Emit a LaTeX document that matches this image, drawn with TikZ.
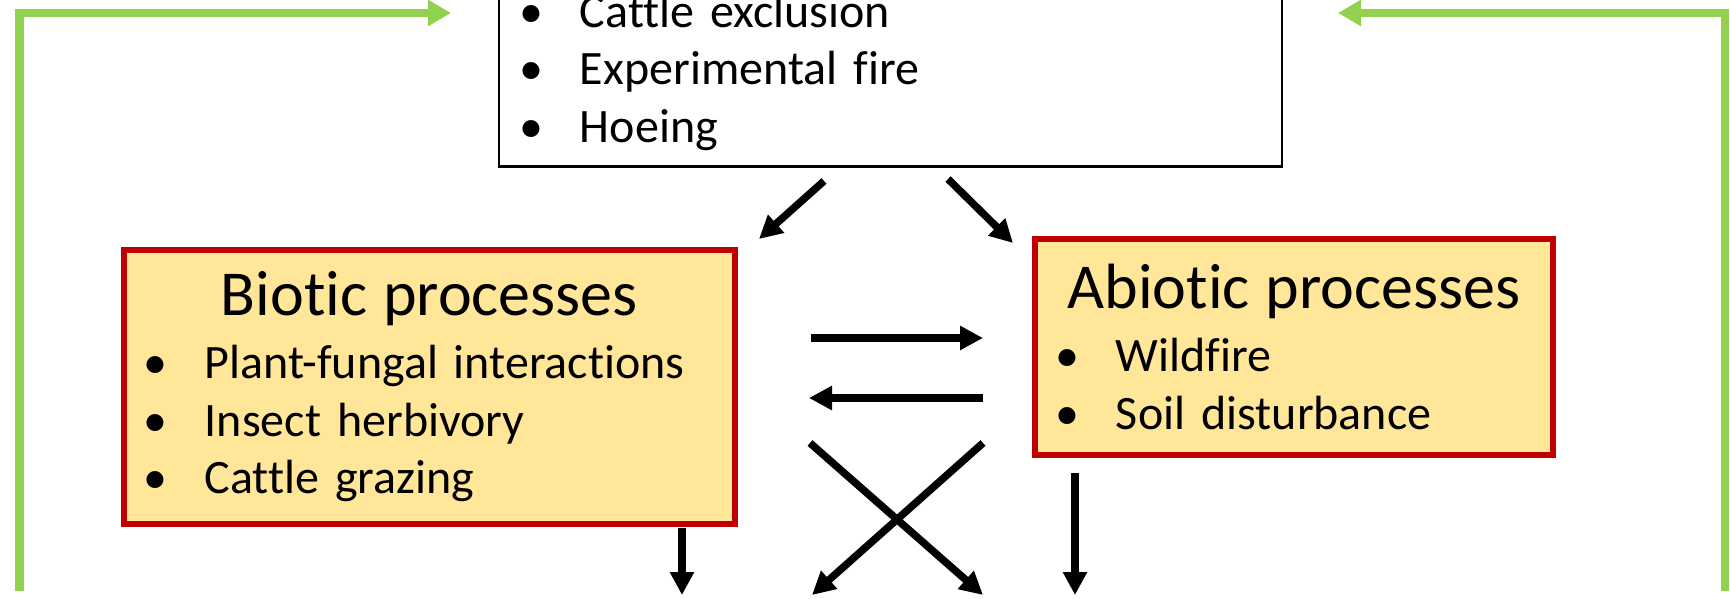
\documentclass[tikz,border=0pt]{standalone}
\usepackage{fontspec}
\setmainfont[RawFeature={-liga;-clig;-dlig}, WordSpace=0.7]{Carlito}
\usetikzlibrary{arrows.meta}
\setlength{\parindent}{0pt}
\definecolor{boxfill}{HTML}{FFE699}
\definecolor{boxred}{HTML}{C00000}
\definecolor{loopgreen}{HTML}{92D050}
\newcommand{\titletext}{\fontsize{64}{70}\selectfont}
\newcommand{\itemtext}{\fontsize{48}{57.6}\selectfont}
\newcommand{\bitem}[1]{\makebox[61pt][l]{\textbullet}#1\par}

\begin{document}
\begin{tikzpicture}[x=1pt, y=-1pt,
		proc box/.style={draw=boxred, fill=boxfill, line width=6.5pt, inner xsep=20pt, inner ysep=0pt, font=\itemtext},
		mgmt box/.style={draw=black, line width=2.5pt, inner xsep=20pt, inner ysep=16pt, font=\itemtext},
		black arrow/.style={line width=7.5pt, -{Triangle[length=23pt,width=23pt]}},
		green arrow/.style={draw=loopgreen, line width=8.5pt, -{Triangle[length=23pt,width=25pt]}}]

	\clip (0,0) rectangle (1730,599);
	\fill[white] (0,0) rectangle (1730,599);

	\node[mgmt box, text width=743pt, anchor=south] (mgmt) at (890.5,168)
		{\bitem{Cattle exclusion}\bitem{Experimental fire}\bitem{Hoeing}};
	\node[proc box, text width=571pt, minimum width=611pt, minimum height=274pt] (biotic) at (429.3,387)
		{{\centering\titletext Biotic processes\par}\vspace{5pt}%
		\bitem{Plant-fungal interactions}\bitem{Insect herbivory}\bitem{Cattle grazing}};
	\node[proc box, text width=478pt, minimum width=518pt, minimum height=216pt] (abiotic) at (1294,347)
		{{\centering\titletext Abiotic processes\par}\vspace{5pt}%
		\bitem{Wildfire}\bitem{Soil disturbance}};

	\coordinate (mgmt-bio-a) at (824,181);
	\coordinate (mgmt-bio-b) at (759,239);
	\coordinate (mgmt-abio-a) at (948,179);
	\coordinate (mgmt-abio-b) at (1013,243);
	\coordinate (bio-abio-a) at (811,338);
	\coordinate (bio-abio-b) at (983,338);
	\coordinate (abio-bio-a) at (983,398);
	\coordinate (abio-bio-b) at (809,398);
	\coordinate (cross-a) at (810,443);
	\coordinate (cross-b) at (983,595);
	\coordinate (cross-c) at (983,443);
	\coordinate (cross-d) at (812,595);
	\coordinate (bio-down-a) at (682,528);
	\coordinate (bio-down-b) at (682,595);
	\coordinate (abio-down-a) at (1075,473);
	\coordinate (abio-down-b) at (1075,595);
	\coordinate (loop-left) at (19.5,591);
	\coordinate (loop-left-end) at (451,13);
	\coordinate (loop-right) at (1725,591);
	\coordinate (loop-right-end) at (1338,13);

	\draw[black arrow] (mgmt-bio-a) -- (mgmt-bio-b);
	\draw[black arrow] (mgmt-abio-a) -- (mgmt-abio-b);
	\draw[black arrow] (bio-abio-a) -- (bio-abio-b);
	\draw[black arrow] (abio-bio-a) -- (abio-bio-b);
	\draw[black arrow] (cross-a) -- (cross-b);
	\draw[black arrow] (cross-c) -- (cross-d);
	\draw[black arrow] (bio-down-a) -- (bio-down-b);
	\draw[black arrow] (abio-down-a) -- (abio-down-b);

	\draw[green arrow] (loop-left) |- (loop-left-end);
	\draw[green arrow] (loop-right) |- (loop-right-end);
\end{tikzpicture}
\end{document}
